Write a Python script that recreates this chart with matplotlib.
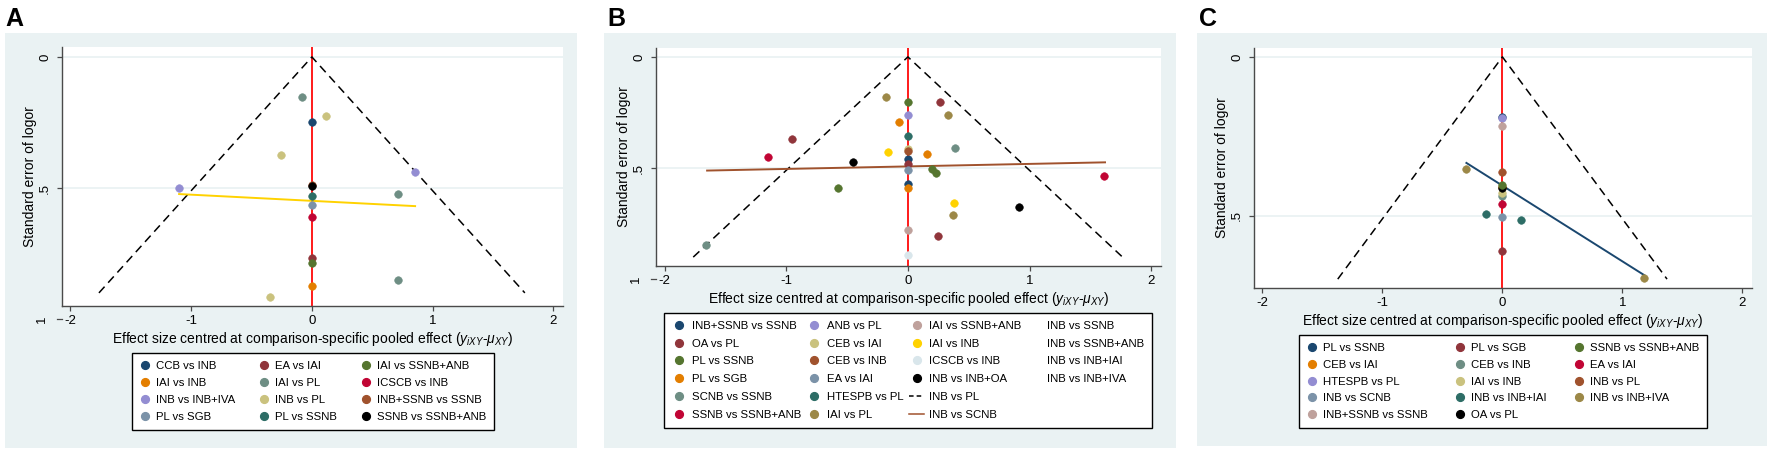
import matplotlib
matplotlib.use('Agg')
import matplotlib.pyplot as plt
from matplotlib.lines import Line2D
from matplotlib.patches import Rectangle
import matplotlib.transforms as mtransforms

plt.rcParams['font.family'] = ['Liberation Sans', 'DejaVu Sans']
plt.rcParams['mathtext.fontset'] = 'custom'
plt.rcParams['mathtext.rm'] = 'Liberation Sans'
plt.rcParams['mathtext.it'] = 'Liberation Sans:italic'

# ---------------- colours (Stata s2color palette) ----------------
NAVY = '#1a476f'; MAROON = '#90353b'; FOREST = '#55752f'; DKORANGE = '#e37e00'
TEAL = '#6e8e84'; CRANBERRY = '#c10534'; LAVENDER = '#938dd2'; KHAKI = '#cac27e'
SIENNA = '#a0522d'; EMIDBLUE = '#7b92a8'; EMERALD = '#2d6d66'; BROWN = '#9c8847'
EROSE = '#bfa19c'; GOLD = '#ffd200'; BLUISHGRAY = '#d9e6eb'; BLACK = '#000000'
BG = '#eaf2f3'

# ---------------- data: panel A ----------------
a_labels = ['CCB vs INB', 'IAI vs INB', 'INB vs INB+IVA', 'PL vs SGB',
            'EA vs IAI', 'IAI vs PL', 'INB vs PL', 'PL vs SSNB',
            'IAI vs SSNB+ANB', 'ICSCB vs INB', 'INB+SSNB vs SSNB', 'SSNB vs SSNB+ANB']
a_colors = [NAVY, DKORANGE, LAVENDER, EMIDBLUE, MAROON, TEAL, KHAKI, EMERALD,
            FOREST, CRANBERRY, SIENNA, BLACK]
a_x = [[0.0], [0.0], [0.855, -1.10], [0.0],
       [0.0], [-0.085, 0.715, 0.715], [0.117, -0.26, -0.343], [0.0],
       [0.0], [0.0], [0.0], [0.0]]
a_se = [[0.248], [0.873], [0.440, 0.501], [0.564],
        [0.768], [0.154, 0.523, 0.849], [0.224, 0.374, 0.915], [0.531],
        [0.787], [0.609], [0.490], [0.492]]
a_fit_x = [-1.10, 0.855]
a_fit_se = [0.523, 0.569]
a_se_max = 0.90

# ---------------- data: panel B ----------------
b_labels = ['INB+SSNB vs SSNB', 'OA vs PL', 'PL vs SSNB', 'PL vs SGB', 'SCNB vs SSNB', 'SSNB vs SSNB+ANB',
            'ANB vs PL', 'CEB vs IAI', 'CEB vs INB', 'EA vs IAI', 'HTESPB vs PL', 'IAI vs PL',
            'IAI vs SSNB+ANB', 'IAI vs INB', 'ICSCB vs INB', 'INB vs INB+OA']
b_colors = [NAVY, MAROON, FOREST, DKORANGE, TEAL, CRANBERRY,
            LAVENDER, KHAKI, SIENNA, EMIDBLUE, EMERALD, BROWN,
            EROSE, GOLD, BLUISHGRAY, BLACK]
b_x = [[0.0, 0.0], [0.263, -0.949, 0.0, 0.25], [0.0, 0.20, 0.23, -0.573], [-0.074, 0.156, 0.0],
       [0.39, -1.657], [-1.15, 1.61],
       [0.0], [0.0], [0.0], [0.0], [0.0], [-0.18, 0.329, 0.368],
       [0.0], [-0.167, 0.382], [0.0], [-0.455, 0.915]]
b_se = [[0.461, 0.571], [0.201, 0.371, 0.483, 0.805], [0.201, 0.505, 0.520, 0.589], [0.294, 0.435, 0.589],
        [0.411, 0.847], [0.450, 0.535],
        [0.261], [0.416], [0.424], [0.509], [0.354], [0.179, 0.261, 0.710],
        [0.776], [0.429, 0.656], [0.889], [0.474, 0.677]]
b_line_labels = ['INB vs PL', 'INB vs SCNB']
b_extra_labels = ['INB vs SSNB', 'INB vs SSNB+ANB', 'INB vs INB+IAI', 'INB vs INB+IVA', '', '']
b_fit_x = [-1.65, 1.62]
b_fit_se = [0.511, 0.474]
b_se_max = 0.90

# ---------------- data: panel C ----------------
c_labels = ['PL vs SSNB', 'CEB vs IAI', 'HTESPB vs PL', 'INB vs SCNB', 'INB+SSNB vs SSNB',
            'PL vs SGB', 'CEB vs INB', 'IAI vs INB', 'INB vs INB+IAI', 'OA vs PL',
            'SSNB vs SSNB+ANB', 'EA vs IAI', 'INB vs PL', 'INB vs INB+IVA']
c_colors = [NAVY, DKORANGE, LAVENDER, EMIDBLUE, EROSE,
            MAROON, TEAL, KHAKI, EMERALD, BLACK,
            FOREST, CRANBERRY, SIENNA, BROWN]
c_x = [[0.0], [0.0], [0.0], [0.0], [0.0],
       [0.0], [0.0], [0.0], [-0.14, 0.157], [0.0],
       [0.0], [0.0], [0.0], [-0.30, 1.18]]
c_se = [[0.190], [0.410], [0.194], [0.505], [0.217],
        [0.613], [0.437], [0.428], [0.495, 0.514], [0.413],
        [0.402], [0.462], [0.363], [0.354, 0.697]]
c_fit_x = [-0.30, 1.18]
c_fit_se = [0.334, 0.687]
c_se_max = 0.70

x_ticks = [-2, -1, 0, 1, 2]
x_tick_labels = ['-2', '-1', '0', '1', '2']
y_ticks = [0, 0.5]
y_tick_labels = ['0', '.5']

XLABEL = 'Effect size centred at comparison-specific pooled effect ($y_{iXY}$-$\\mu_{XY}$)'
YLABEL = 'Standard error of logor'

# ---------------- figure ----------------
W, H = 1772, 454
fig = plt.figure(figsize=(W / 100, H / 100), dpi=100)
fig.patch.set_facecolor('white')
AXC = '#4a4a4a'
TICKFS = 9.5
LABFS = 10
LEGFS = 8.2


def px_rect(l, t, r, b):
    return [l / W, 1 - b / H, (r - l) / W, (b - t) / H]


def panel(bg, ax_box, letter_xy, letter, xs, ses, colors, fit_x, fit_se, fit_color,
          se_max, ylim, show_one):
    x0, y0, x1, y1 = bg
    fig.add_artist(Rectangle((x0 / W, 1 - y1 / H), (x1 - x0) / W, (y1 - y0) / H,
                             transform=fig.transFigure, facecolor=BG, edgecolor='none', zorder=-10))
    fig.text(letter_xy[0] / W, 1 - letter_xy[1] / H, letter, fontsize=18, fontweight='bold',
             ha='left', va='top')
    ax = fig.add_axes(px_rect(*ax_box))
    ax.set_facecolor('white')
    ax.set_xlim(-2.07, 2.08)
    ax.set_ylim(*ylim)
    ax.set_axisbelow(True)
    ax.yaxis.grid(True, color=BG, lw=1.3)
    for s in ['top', 'right']:
        ax.spines[s].set_visible(False)
    for s in ['left', 'bottom']:
        ax.spines[s].set_color(AXC)
        ax.spines[s].set_linewidth(1.0)
    ax.set_xticks(x_ticks)
    ax.set_xticklabels(x_tick_labels)
    ax.set_yticks(y_ticks)
    ax.set_yticklabels(y_tick_labels, rotation=90, va='center')
    ax.tick_params(axis='both', direction='out', length=3.6, width=0.9, color=AXC,
                   labelsize=TICKFS, labelcolor='black')
    ax.tick_params(axis='x', pad=3.2)
    ax.tick_params(axis='y', pad=4.2)
    ax.set_xlabel(XLABEL, fontsize=LABFS, labelpad=1.5)
    ax.set_ylabel(YLABEL, fontsize=LABFS, labelpad=1.5)

    ax.axvline(0, color='#ff1a1a', lw=1.4, zorder=2)
    fx = 1.96 * se_max
    ax.plot([-fx, 0, fx], [se_max, 0, se_max], color='black', lw=1.1,
            linestyle=(0, (5.5, 3.5)), zorder=3)
    ax.plot(fit_x, fit_se, color=fit_color, lw=1.4, zorder=3)
    for xv, sv, c in zip(xs, ses, colors):
        ax.scatter(xv, sv, s=30, color=c, edgecolors=c, linewidths=0.4, zorder=4)

    if show_one:
        trans = mtransforms.blended_transform_factory(ax.transAxes, ax.transData)
        tl = 5 / (ax_box[2] - ax_box[0])
        ax.plot([-tl, 0], [1, 1], transform=trans, color=AXC, lw=0.9, clip_on=False)
        ax.text(-tl - 9 / (ax_box[2] - ax_box[0]), 1, '1', transform=trans, rotation=90,
                ha='right', va='center', fontsize=TICKFS, clip_on=False)
    return ax


def add_legend(ax, handles, labels, ncol, cx, top, **kw):
    leg = ax.legend(handles, labels, ncol=ncol, loc='upper center',
                    bbox_to_anchor=(cx / W, 1 - top / H), bbox_transform=fig.transFigure,
                    frameon=True, fancybox=False, edgecolor='black', framealpha=1,
                    fontsize=LEGFS, borderaxespad=0, **kw)
    leg.get_frame().set_linewidth(1.0)
    return leg


def dot(c):
    return Line2D([], [], marker='o', ls='none', color=c, markersize=5.6)


# Panel A
axA = panel((5, 33, 577, 448), (62, 47, 563, 306), (5, 7), 'A', a_x, a_se, a_colors,
            a_fit_x, a_fit_se, GOLD, a_se_max, (0.95, -0.038), True)
add_legend(axA, [dot(c) for c in a_colors], a_labels, 3, 313, 353,
           handlelength=0.9, handletextpad=0.5, columnspacing=2.1,
           labelspacing=0.62, borderpad=0.7)

# Panel B
axB = panel((604, 33, 1176, 448), (656, 48, 1161, 266), (607, 7), 'B', b_x, b_se, b_colors,
            b_fit_x, b_fit_se, SIENNA, b_se_max, (0.94, -0.04), True)
b_handles = [dot(c) for c in b_colors]
b_handles += [Line2D([], [], color='black', lw=1.1, linestyle=(0, (3, 2))),
              Line2D([], [], color=SIENNA, lw=1.1)]
b_handles += [Line2D([], [], color='none') for _ in b_extra_labels]
add_legend(axB, b_handles, b_labels + b_line_labels + b_extra_labels, 4, 908, 313,
           handlelength=1.3, handletextpad=0.45, columnspacing=0.5,
           labelspacing=0.68, borderpad=0.7)

# Panel C
axC = panel((1197, 33, 1767, 446), (1254, 48, 1752, 288), (1199, 7), 'C', c_x, c_se, c_colors,
            c_fit_x, c_fit_se, NAVY, c_se_max, (0.728, -0.028), False)
add_legend(axC, [dot(c) for c in c_colors], c_labels, 3, 1503, 335,
           handlelength=0.9, handletextpad=0.5, columnspacing=2.4,
           labelspacing=0.6, borderpad=0.7)

fig.savefig('out.png', dpi=100, facecolor='white')
